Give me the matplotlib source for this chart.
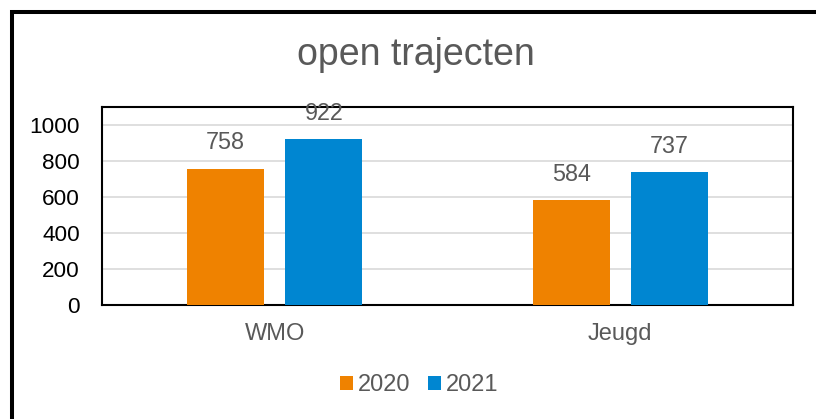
import matplotlib
matplotlib.use("Agg")
from matplotlib import pyplot as plt
from matplotlib.patches import Rectangle
import numpy as np

categories = ["WMO", "Jeugd"]
years = ["2020", "2021"]
values_2020 = [758, 584]
values_2021 = [922, 737]
yticks = [0, 200, 400, 600, 800, 1000]

plt.rcParams['font.family'] = ['Liberation Sans', 'DejaVu Sans']

orange = '#EF8200'
blue = '#0086D1'
gray = '#595959'

fig = plt.figure(figsize=(8.16, 4.19), dpi=100)
ax = fig.add_axes([0.125, 0.2721, 0.8468, 0.4725])

x = np.arange(len(categories))
w = 0.223
off = 0.142
b1 = ax.bar(x - off, values_2020, w, color=orange, label=years[0], zorder=3)
b2 = ax.bar(x + off, values_2021, w, color=blue, label=years[1], zorder=3)

for bars in (b1, b2):
    for r in bars:
        ax.annotate(str(int(r.get_height())), (r.get_x() + r.get_width() / 2, r.get_height()),
                    xytext=(0, 18.5), textcoords='offset points', ha='center', va='center',
                    fontsize=16.8, color=gray)

ax.set_xlim(-0.5, 1.5)
ax.set_ylim(0, 1100)
ax.set_yticks(yticks)
ax.set_xticks(x)
ax.set_xticklabels(categories, color=gray, fontsize=17)
ax.tick_params(axis='y', length=0, pad=16, labelsize=16.2, labelcolor='black')
ax.tick_params(axis='x', length=0, pad=13)
ax.grid(axis='y', color='#D9D9D9', linewidth=1.2, zorder=0)
for s in ax.spines.values():
    s.set_linewidth(1.5)
    s.set_color('black')

fig.text(0.51, 1 - 55 / 419, "open trajecten", ha='center', va='center', fontsize=27, color=gray)

leg = fig.legend(loc='center', bbox_to_anchor=(0.514, 1 - 385 / 419), ncol=2, frameon=False,
                 fontsize=17, handlelength=0.55, handleheight=0.55, handletextpad=0.2,
                 columnspacing=0.75, labelcolor=gray)

# outer chart frame, cut off at right and bottom
fig.patches.append(Rectangle((12 / 816, -0.1), 1.2, 1 - 12 / 419 + 0.1, transform=fig.transFigure,
                             fill=False, edgecolor='black', linewidth=2.9, figure=fig))

fig.savefig('out.png', dpi=100)
